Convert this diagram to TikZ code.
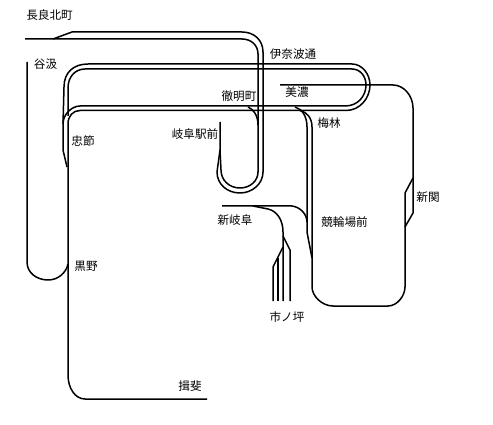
\documentclass[tikz,border=0pt]{standalone}
\usepackage{fontspec}
\setmainfont{Noto Sans CJK JP}
\tikzset{
  track/.style={draw=black,line width=1.5pt,line join=round},
  lab/.style={inner sep=0pt,font=\fontsize{11.6}{12}\selectfont,text=black},
}
\begin{document}
\begin{tikzpicture}[x=1pt,y=-1pt]
\useasboundingbox[fill=white] (0,0) rectangle (493,425);
% Nagara-kita branch into Gifu-ekimae loop
\draw[track] (25,39) -- (242,39) .. controls (251,39) and (258,45) .. (258,54) -- (258,172)
  .. controls (258,181) and (250,188) .. (240,188) .. controls (229,188) and (221,180) .. (221,170) -- (220,150);
\draw[track] (53,39) -- (72,32) -- (242,32) .. controls (254,32) and (263,40) .. (263,52) -- (263,172)
  .. controls (263,184) and (252,193) .. (240,193) .. controls (227,193) and (217,184) .. (217,172) -- (220,150) -- (220,122);
% Tanigumi side
\draw[track] (27,62) -- (27,262) .. controls (27,273) and (37,280) .. (48,280) .. controls (58,280) and (66,273) .. (68,264);
% Minomachi loop
\draw[track] (88,64) -- (352,64) .. controls (362,64) and (370,74) .. (370,85) .. controls (370,98) and (360,110.5) .. (346,110.5) -- (80,110.5)
  .. controls (73,110.5) and (68,116) .. (68,124) -- (68,375) .. controls (68,388) and (75,399) .. (85,399) -- (207,399);
\draw[track] (85,69) -- (352,69) .. controls (360,69) and (366,76) .. (366,85) .. controls (366,96) and (358,106) .. (345,106) -- (80,106)
  .. controls (72,106) and (63,114) .. (63,124) -- (63,150) -- (67,167);
\draw[track] (88,64) .. controls (74,64) and (64,72) .. (64,87) -- (63,124);
\draw[track] (85,69) .. controls (75,69) and (68,77) .. (68,88) -- (68,116);
% Tetsumeicho curve
\draw[track] (248,107) .. controls (253,109) and (258,115) .. (258,125);
% Umebayashi lines
\draw[track] (295,107) .. controls (302,109) and (307,116) .. (307,127) -- (307,232) -- (312,258);
\draw[track] (300,110.5) .. controls (307,112) and (312,118) .. (312,127) -- (312,287)
  .. controls (312,296) and (322,306) .. (333,306) -- (388,306) .. controls (397,306) and (405,296) .. (405,287)
  -- (405,193) -- (413,178);
% Mino line
\draw[track] (280,85) -- (393,85) .. controls (404,85) and (413,96) .. (413,108) -- (413,213) -- (405,227);
% Shin-Gifu lines
\draw[track] (222,206) -- (292,206) .. controls (300,207) and (307,214) .. (307,222);
\draw[track] (253,206) -- (268,209) .. controls (277,211) and (283,220) .. (283,232) -- (283,301);
\draw[track] (283,236) -- (290,250) -- (290,301);
\draw[track] (283,247) -- (273,267) -- (273,301);
\draw[track] (278,258) -- (278,301);
% Labels
\node[lab,anchor=center] (naga) at (49.5,15) {長良北町};
\node[lab,anchor=center] (tani) at (45.5,64) {谷汲};
\node[lab,anchor=center] (inab) at (293,54) {伊奈波通};
\node[lab,anchor=center] (mino) at (297,92) {美濃};
\node[lab,anchor=center] (tets) at (239,96) {徹明町};
\node[lab,anchor=center] (umeb) at (329,123) {梅林};
\node[lab,anchor=center] (gifu) at (195,134) {岐阜駅前};
\node[lab,anchor=center] (chus) at (83,141) {忠節};
\node[lab,anchor=center] (shis) at (428,197) {新関};
\node[lab,anchor=center] (shin) at (235,220) {新岐阜};
\node[lab,anchor=center] (keir) at (344.5,222) {競輪場前};
\node[lab,anchor=center] (kuro) at (86,266) {黒野};
\node[lab,anchor=center] (ichi) at (287,317) {市ノ坪};
\node[lab,anchor=center] (ibi) at (190,386) {揖斐};
\end{tikzpicture}
\end{document}
